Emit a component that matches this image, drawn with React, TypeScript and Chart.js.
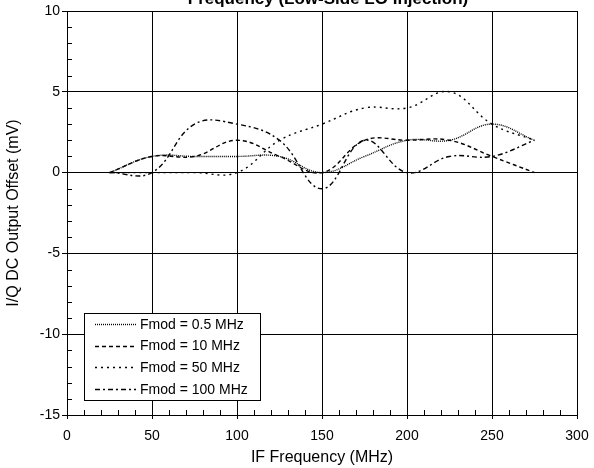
import { useEffect, useRef } from "react";
import { Chart, registerables } from "chart.js";

Chart.register(...registerables);

const freqMHz = [25, 50, 75, 100, 125, 150, 175, 200, 225, 250, 275];
const fmod05 = [0, 1, 1, 1, 1, 0, 1, 2, 2, 3, 2];
const fmod10 = [0, 1, 1, 2, 1, 0, 2, 2, 2, 1, 0];
const fmod50 = [0, 0, 0, 0, 2, 3, 4, 4, 5, 3, 2];
const fmod100 = [0, 0, 3, 3, 2, -1, 2, 0, 1, 1, 2];
const seriesLabels = ["Fmod = 0.5 MHz", "Fmod = 10 MHz", "Fmod = 50 MHz", "Fmod = 100 MHz"];
const seriesDash = [[1, 1], [4, 3], [2, 4], [5, 3, 2, 3]];
const titleText = "Frequency (Low-Side LO Injection)";
const xTitle = "IF Frequency (MHz)";
const yTitle = "I/Q DC Output Offset (mV)";

const FONT = '"Liberation Sans", Arial, Helvetica, sans-serif';

const extrasPlugin = {
  id: "extras",
  afterDraw(chart: any) {
    const ctx = chart.ctx;
    const xs = chart.scales.x;
    const ys = chart.scales.y;
    const area = chart.chartArea;
    ctx.save();
    ctx.strokeStyle = "#000";
    ctx.lineWidth = 1;
    ctx.setLineDash([]);
    for (let v = 0; v <= 300; v += 10) {
      if (v % 50 === 0) continue;
      const px = Math.round(xs.getPixelForValue(v)) + 0.5;
      ctx.beginPath();
      ctx.moveTo(px, area.bottom);
      ctx.lineTo(px, area.bottom - 5);
      ctx.stroke();
    }
    for (let v = -15; v <= 10; v += 1) {
      if (v % 5 === 0) continue;
      const py = Math.round(ys.getPixelForValue(v)) + 0.5;
      ctx.beginPath();
      ctx.moveTo(area.left, py);
      ctx.lineTo(area.left + 5, py);
      ctx.stroke();
    }
    ctx.fillStyle = "#000";
    ctx.font = "bold 17px " + FONT;
    ctx.textAlign = "center";
    ctx.textBaseline = "alphabetic";
    ctx.fillText(titleText, (area.left + area.right) / 2 + 6, 4);

    const bx = 84, by = 313, bw = 176, bh = 87;
    ctx.fillStyle = "#fff";
    ctx.fillRect(bx, by, bw, bh);
    ctx.strokeStyle = "#000";
    ctx.strokeRect(bx + 0.5, by + 0.5, bw, bh);
    ctx.font = "14px " + FONT;
    ctx.textAlign = "left";
    ctx.textBaseline = "middle";
    chart.data.datasets.forEach((ds: any, i: number) => {
      const y = by + 11 + i * 21.6;
      ctx.save();
      ctx.strokeStyle = ds.borderColor;
      ctx.lineWidth = ds.borderWidth;
      ctx.setLineDash(ds.borderDash || []);
      ctx.beginPath();
      ctx.moveTo(95, Math.round(y) + 0.5);
      ctx.lineTo(136, Math.round(y) + 0.5);
      ctx.stroke();
      ctx.restore();
      ctx.fillStyle = "#000";
      ctx.fillText(ds.label, 140, y + 1);
    });
    ctx.restore();
  },
};

export default function App() {
  const ref = useRef<HTMLCanvasElement | null>(null);
  useEffect(() => {
    if (!ref.current) return;
    const all = [fmod05, fmod10, fmod50, fmod100];
    const chart = new Chart(ref.current, {
      type: "line",
      data: {
        datasets: all.map((vals, i) => ({
          label: seriesLabels[i],
          data: freqMHz.map((x, j) => ({ x, y: vals[j] })),
          borderColor: "#000",
          borderWidth: 1.4,
          borderDash: seriesDash[i],
          pointRadius: 0,
          tension: 0.4,
          fill: false,
        })),
      },
      options: {
        responsive: false,
        animation: false,
        events: [],
        layout: { padding: { top: 11, right: 17, left: 0, bottom: 0 } },
        plugins: {
          legend: { display: false },
          title: { display: false },
          tooltip: { enabled: false },
        },
        scales: {
          x: {
            type: "linear",
            min: 0,
            max: 300,
            ticks: { stepSize: 50, color: "#000", font: { family: FONT, size: 14 }, padding: 9, maxRotation: 0 },
            grid: { color: "#000", lineWidth: 1, tickLength: 4, drawTicks: true },
            border: { color: "#000", width: 1 },
            title: { display: true, text: xTitle, color: "#000", font: { family: FONT, size: 16 }, padding: { top: 0, bottom: 1 } },
            afterFit: (s: any) => { s.height = 53; s.paddingLeft = 0; s.paddingRight = 0; },
          },
          y: {
            type: "linear",
            min: -15,
            max: 10,
            ticks: { stepSize: 5, color: "#000", font: { family: FONT, size: 14 }, padding: 2 },
            grid: { color: "#000", lineWidth: 1, tickLength: 5, drawTicks: true },
            border: { color: "#000", width: 1 },
            title: { display: true, text: yTitle, color: "#000", font: { family: FONT, size: 16 }, padding: { top: 4, bottom: 0 } },
            afterFit: (s: any) => { s.width = 67; s.paddingTop = 0; s.paddingBottom = 0; },
          },
        },
      },
      plugins: [extrasPlugin],
    });
    return () => chart.destroy();
  }, []);
  return (
    <div style={{ position: "absolute", left: 0, top: 0, width: 594, height: 468, background: "#fff" }}>
      <canvas ref={ref} width={594} height={468} style={{ width: 594, height: 468, display: "block" }} />
    </div>
  );
}
